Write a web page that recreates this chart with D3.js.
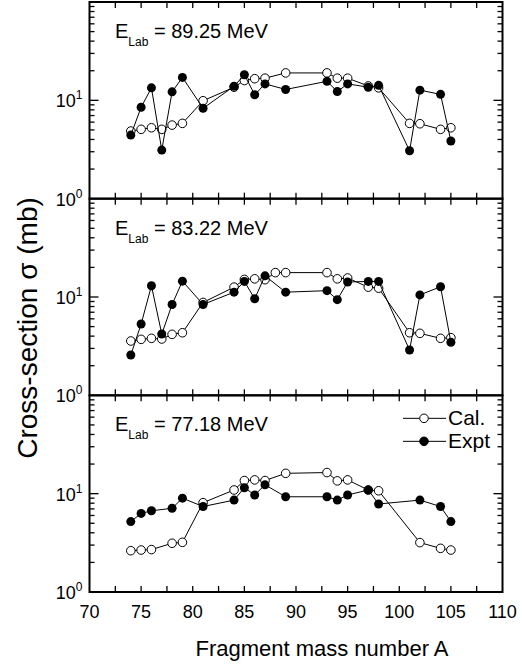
<!DOCTYPE html>
<html>
<head>
<meta charset="utf-8">
<script src="https://cdn.jsdelivr.net/npm/d3@7"></script>
<style>
  body { margin: 0; background: #fff; }
  svg text { font-family: "Liberation Sans", Arial, sans-serif; fill: #000; }
</style>
</head>
<body>
<div id="chart"></div>
<script>
// fragment mass numbers
const massA = [74, 75, 76, 77, 78, 79, 81, 84, 85, 86, 87, 89, 93, 94, 95, 97, 98, 101, 102, 104, 105];
const massB = [74, 75, 76, 77, 78, 79, 81, 84, 85, 86, 87, 88, 89, 93, 94, 95, 97, 98, 101, 102, 104, 105];
const massC = [74, 75, 76, 78, 79, 81, 84, 85, 86, 87, 89, 93, 94, 95, 97, 98, 102, 104, 105];

// 89.25 MeV
const cal8925 = [4.87, 5.07, 5.26, 5.07, 5.6, 5.83, 9.9, 13.6, 15.9, 16.6, 16.8, 19.0, 19.0, 16.8, 16.8, 14.0, 13.4, 5.83, 5.78, 5.07, 5.26];
const expt8925 = [4.43, 8.5, 13.4, 3.12, 12.2, 17.1, 8.3, 13.9, 18.2, 11.4, 14.7, 12.9, 15.6, 12.3, 14.7, 13.6, 14.2, 3.07, 12.7, 11.5, 3.86];

// 83.22 MeV
const cal8322 = [3.57, 3.71, 3.8, 3.74, 4.17, 4.33, 8.8, 12.6, 15.1, 15.3, 15.0, 17.7, 17.7, 17.7, 15.3, 15.6, 12.6, 12.3, 4.33, 4.27, 3.8, 3.86];
const expt8322 = [2.57, 5.31, 13.0, 4.2, 8.4, 14.5, 8.4, 11.2, 14.4, 9.6, 16.4, 11.2, 11.6, 9.4, 14.2, 14.4, 14.4, 2.89, 10.5, 12.7, 3.46];

// 77.18 MeV
const cal7718 = [2.63, 2.67, 2.7, 3.13, 3.2, 8.1, 10.9, 13.6, 13.8, 13.6, 16.1, 16.4, 13.5, 13.8, 10.9, 10.7, 3.18, 2.78, 2.67];
const expt7718 = [5.2, 6.3, 6.7, 7.1, 9.0, 7.4, 8.6, 11.5, 9.7, 12.3, 9.3, 9.3, 8.6, 9.7, 10.9, 7.85, 8.6, 7.4, 5.2];

const energies = ["89.25", "83.22", "77.18"];
const xTickLabels = [70, 75, 80, 85, 90, 95, 100, 105, 110];

const panels = [
  { energy: energies[0], calMass: massA, cal: cal8925, exptMass: massA, expt: expt8925 },
  { energy: energies[1], calMass: massB, cal: cal8322, exptMass: massA, expt: expt8322 },
  { energy: energies[2], calMass: massC, cal: cal7718, exptMass: massC, expt: expt7718 },
];

const W = 522, H = 665;
const plotLeft = 89.5, plotRight = 502.5, plotTop = 2, plotBottom = 592;
const panelH = (plotBottom - plotTop) / panels.length;

const svg = d3.select("#chart").append("svg")
  .attr("width", W).attr("height", H);

const x = d3.scaleLinear().domain([70, 110]).range([plotLeft, plotRight]);
const xMinor = d3.range(70, 110.01, 2.5);
const yMinor = [2, 3, 4, 5, 6, 7, 8, 9, 20, 30, 40, 50, 60, 70, 80, 90];

const line = (xs, y) => d3.line().x((d, i) => x(xs[i])).y((d) => y(d));

panels.forEach((p, k) => {
  const y0 = plotTop + k * panelH;
  const y = d3.scaleLog().domain([1, 100]).range([y0 + panelH, y0]);
  const g = svg.append("g");

  // minor/major ticks, all inward
  const tick = (x1, y1, x2, y2) => g.append("line")
    .attr("x1", x1).attr("y1", y1).attr("x2", x2).attr("y2", y2)
    .attr("stroke", "#000").attr("stroke-width", 1.3);

  yMinor.forEach((v) => {
    tick(plotLeft, y(v), plotLeft + 5, y(v));
    tick(plotRight, y(v), plotRight - 5, y(v));
  });
  tick(plotLeft, y(10), plotLeft + 9, y(10));
  tick(plotRight, y(10), plotRight - 9, y(10));

  xMinor.slice(1, -1).forEach((v) => {
    tick(x(v), y0, x(v), y0 + 6);
    tick(x(v), y0 + panelH, x(v), y0 + panelH - 6);
  });

  g.append("rect")
    .attr("x", plotLeft).attr("y", y0)
    .attr("width", plotRight - plotLeft).attr("height", panelH)
    .attr("fill", "none").attr("stroke", "#000").attr("stroke-width", 2);

  // y labels 10^0 and 10^1
  [[1, "0"], [10, "1"]].forEach(([v, e]) => {
    const t = g.append("text")
      .attr("x", plotLeft - 7).attr("y", y(v) + 7)
      .attr("text-anchor", "end").attr("font-size", 18);
    t.append("tspan").text("10");
    t.append("tspan").attr("dy", -8).attr("font-size", 12).text(e);
  });

  // energy label
  const lab = g.append("text")
    .attr("x", 115).attr("y", y0 + 36).attr("font-size", 20);
  lab.append("tspan").text("E");
  lab.append("tspan").attr("dy", 8).attr("font-size", 12).text("Lab");
  lab.append("tspan").attr("dy", -8).text(` = ${p.energy} MeV`);

  // Cal. series
  g.append("path")
    .attr("d", line(p.calMass, y)(p.cal))
    .attr("fill", "none").attr("stroke", "#000").attr("stroke-width", 1);
  g.selectAll(".cal").data(p.cal).join("circle")
    .attr("cx", (d, i) => x(p.calMass[i])).attr("cy", (d) => y(d))
    .attr("r", 4.3).attr("fill", "#fff").attr("stroke", "#000").attr("stroke-width", 1);

  // Expt series
  g.append("path")
    .attr("d", line(p.exptMass, y)(p.expt))
    .attr("fill", "none").attr("stroke", "#000").attr("stroke-width", 1);
  g.selectAll(".expt").data(p.expt).join("circle")
    .attr("cx", (d, i) => x(p.exptMass[i])).attr("cy", (d) => y(d))
    .attr("r", 4.5).attr("fill", "#000");

  // legend in the last panel
  if (k === panels.length - 1) {
    [["Cal.", "#fff"], ["Expt", "#000"]].forEach(([name, fill], j) => {
      const ly = y0 + 23 + j * 23;
      g.append("line").attr("x1", 403).attr("x2", 446).attr("y1", ly).attr("y2", ly)
        .attr("stroke", "#000").attr("stroke-width", 1);
      g.append("circle").attr("cx", 424).attr("cy", ly).attr("r", 4.3)
        .attr("fill", fill).attr("stroke", "#000").attr("stroke-width", 1);
      g.append("text").attr("x", 448).attr("y", ly + 7).attr("font-size", 21).text(name);
    });
  }
});

// x tick labels under the bottom panel
svg.append("g").selectAll("text").data(xTickLabels).join("text")
  .attr("x", (d) => x(d)).attr("y", 618)
  .attr("text-anchor", "middle").attr("font-size", 18)
  .text((d) => d);

svg.append("text")
  .attr("x", 322).attr("y", 656)
  .attr("text-anchor", "middle").attr("font-size", 22)
  .text("Fragment mass number A");

svg.append("text")
  .attr("transform", "translate(37,328) rotate(-90)")
  .attr("text-anchor", "middle").attr("font-size", 28)
  .text("Cross-section σ (mb)");
</script>
</body>
</html>
